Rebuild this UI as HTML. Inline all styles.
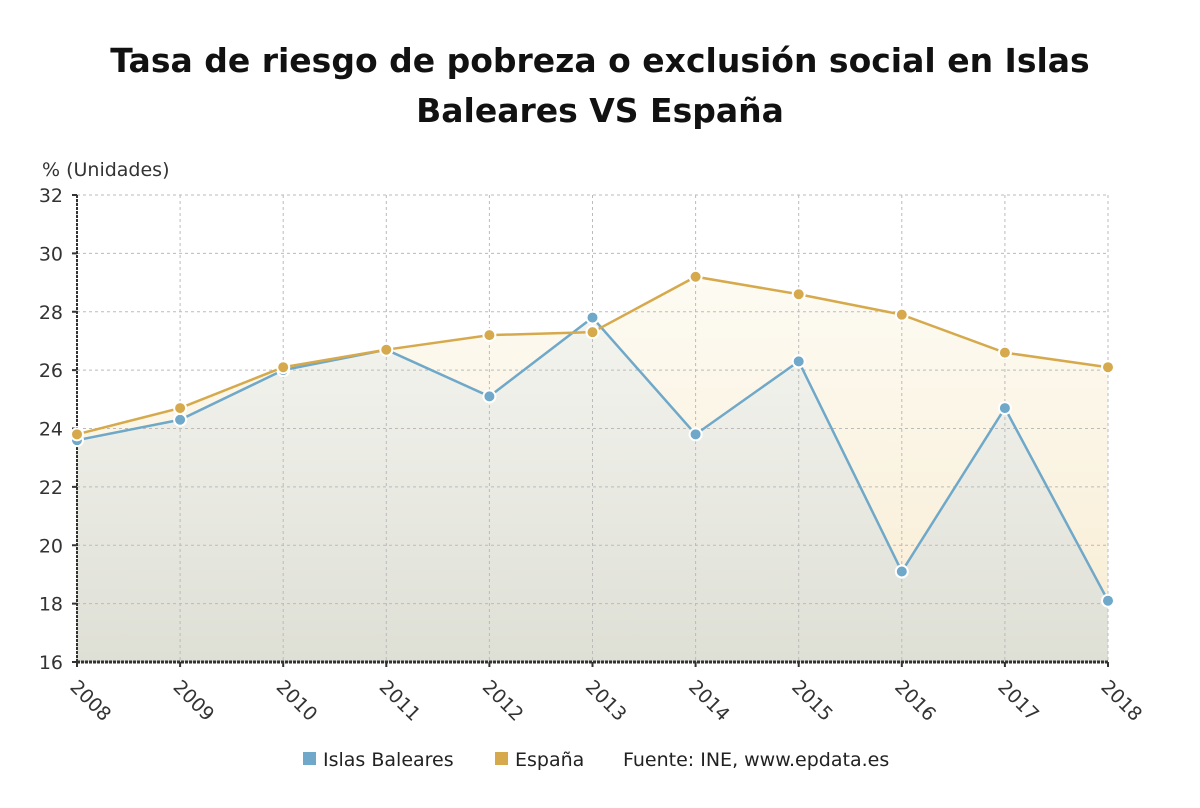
<!DOCTYPE html>
<html><head><meta charset="utf-8">
<style>
body{margin:0;background:#fff;font-family:"DejaVu Sans","Liberation Sans",sans-serif;}
#wrap{position:relative;width:1200px;height:808px;overflow:hidden;}
h1{position:absolute;top:36px;left:0;width:1200px;margin:0;text-align:center;font-size:33px;line-height:50px;font-weight:bold;color:#111;}
</style></head>
<body>
<div id="wrap">
<h1>Tasa de riesgo de pobreza o exclusión social en Islas<br>Baleares VS España</h1>
<svg id="chart" width="1200" height="808" style="position:absolute;left:0;top:0"></svg>
</div>
<script>
const years=['2008','2009','2010','2011','2012','2013','2014','2015','2016','2017','2018'];
const baleares=[23.6,24.3,26.0,26.7,25.1,27.8,23.8,26.3,19.1,24.7,18.1];
const espana=[23.8,24.7,26.1,26.7,27.2,27.3,29.2,28.6,27.9,26.6,26.1];
const yTicks=[16,18,20,22,24,26,28,30,32];
const NS='http://www.w3.org/2000/svg';
const svg=document.getElementById('chart');
const x0=77,x1=1108,y0=662,y1=195;
const xs=i=>x0+(x1-x0)*i/(years.length-1);
const ys=v=>y0-(v-16)/(32-16)*(y0-y1);
function mk(t,a,p){const e=document.createElementNS(NS,t);for(const k in a)e.setAttribute(k,a[k]);(p||svg).appendChild(e);return e;}
const defs=mk('defs',{});
const g1=mk('linearGradient',{id:'gE',x1:0,y1:0,x2:0,y2:1},defs);
mk('stop',{offset:'0','stop-color':'#fdfbf3'},g1);mk('stop',{offset:'1','stop-color':'#f8ecd2'},g1);
const g2=mk('linearGradient',{id:'gB',x1:0,y1:0,x2:0,y2:1},defs);
mk('stop',{offset:'0','stop-color':'#f4f4ef'},g2);mk('stop',{offset:'1','stop-color':'#dedfd5'},g2);
function areaPath(d){let s='M'+xs(0)+','+y0;d.forEach((v,i)=>s+=' L'+xs(i)+','+ys(v));return s+' L'+xs(d.length-1)+','+y0+'Z';}
let a=mk('path',{d:areaPath(espana),fill:'url(#gE)'});

a=mk('path',{d:areaPath(baleares),fill:'url(#gB)'});

yTicks.forEach(v=>{
 const l=mk('line',{x1:x0,x2:x1,y1:ys(v),y2:ys(v),stroke:'#bbb','stroke-dasharray':'3,3'});
 
 const t=mk('text',{x:x0-14,y:ys(v)+7,'text-anchor':'end','font-size':19,fill:'#333'});t.textContent=v;
 
 mk('line',{x1:x0-5,x2:x0,y1:ys(v),y2:ys(v),stroke:'#333','stroke-width':2});
});
years.forEach((y,i)=>{
 const l=mk('line',{x1:xs(i),x2:xs(i),y1:y1,y2:y0,stroke:'#bbb','stroke-dasharray':'3,3'});
 
 mk('line',{x1:xs(i),x2:xs(i),y1:y0,y2:y0+5,stroke:'#333','stroke-width':2});
 const t=mk('text',{x:xs(i)-8,y:y0+26,'font-size':19,fill:'#333',transform:`rotate(45 ${xs(i)-8} ${y0+26})`});t.textContent=y;
 
});
mk('line',{x1:x0,x2:x0,y1:y1,y2:y0,stroke:'#333','stroke-width':2,'stroke-dasharray':'3,1'});
mk('line',{x1:x0,x2:x1,y1:y0,y2:y0,stroke:'#333','stroke-width':3,'stroke-dasharray':'3,1'});
const yt=mk('text',{x:42,y:176,'font-size':19,fill:'#333'});yt.textContent='% (Unidades)';

function series(d,color,name){
 const p=mk('polyline',{points:d.map((v,i)=>xs(i)+','+ys(v)).join(' '),fill:'none',stroke:color,'stroke-width':2.5});
 
 d.forEach((v,i)=>{const c=mk('circle',{cx:xs(i),cy:ys(v),r:6,fill:color,stroke:'#fff','stroke-width':2});
 });
}
series(baleares,'#6fa8c8','baleares');
series(espana,'#d6aa4c','espana');
function leg(x,color,txt,name){
 if(color){const r=mk('rect',{x:x,y:752,width:13,height:13,fill:color});
 }
 const t=mk('text',{x:color?x+20:x,y:766,'font-size':19,fill:'#222'});t.textContent=txt;
 
}
leg(303,'#6fa8c8','Islas Baleares','legend-baleares');
leg(495,'#d6aa4c','España','legend-espana');
leg(623,null,'Fuente: INE, www.epdata.es','source-note');
</script>
</body></html>
